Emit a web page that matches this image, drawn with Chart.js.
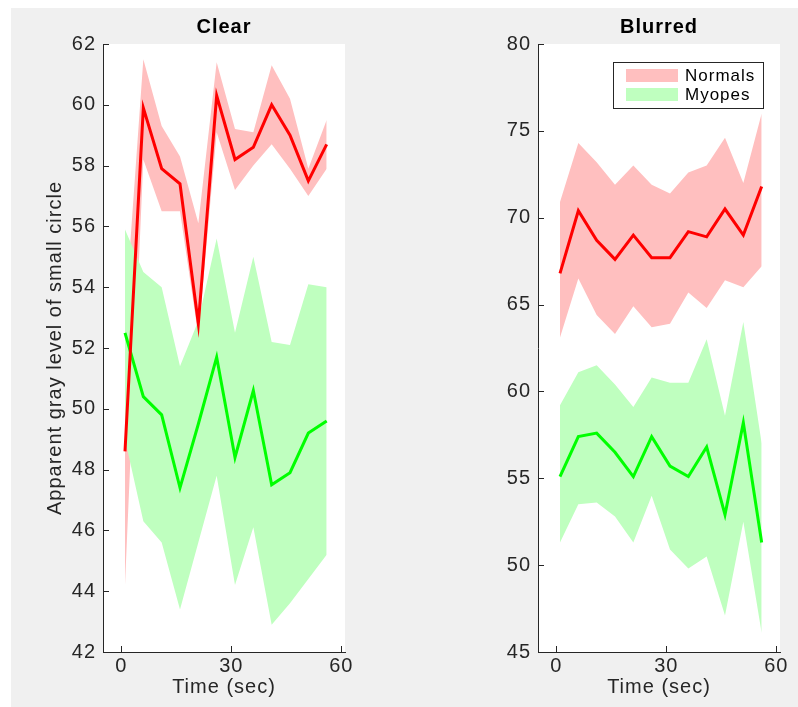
<!DOCTYPE html>
<html>
<head>
<meta charset="utf-8">
<script src="https://cdn.jsdelivr.net/npm/chart.js@4"></script>
<style>
  body { margin: 0; background: #fff; }
  #bg { position: absolute; left: 11px; top: 8px; width: 787px; height: 699px; background: #f0f0f0; }
  canvas { position: absolute; top: 0; }
  #clear { left: 0; }
  #blurred { left: 399px; }
</style>
</head>
<body>
<div id="bg"></div>
<canvas id="clear" width="399" height="707"></canvas>
<canvas id="blurred" width="399" height="707"></canvas>
<script>
// sample times (sec)
const times = [1, 6, 11, 16, 21, 26, 31, 36, 41, 46, 51, 56];

// Clear condition
const clearNormMean = [48.6, 59.9, 57.9, 57.4, 52.8, 60.3, 58.2, 58.6, 60.0, 59.0, 57.5, 58.7];
const clearNormHigh = [53.0, 61.5, 59.3, 58.3, 56.1, 61.4, 59.2, 59.1, 61.3, 60.2, 57.9, 59.5];
const clearNormLow  = [44.2, 58.2, 56.5, 56.5, 52.4, 59.1, 57.2, 58.0, 58.7, 57.9, 57.0, 57.9];
const clearMyoMean  = [52.5, 50.4, 49.8, 47.4, 49.5, 51.7, 48.4, 50.6, 47.5, 47.9, 49.2, 49.6];
const clearMyoHigh  = [55.9, 54.5, 54.0, 51.4, 52.9, 55.6, 52.5, 55.0, 52.2, 52.1, 54.1, 54.0];
const clearMyoLow   = [49.0, 46.3, 45.6, 43.4, 45.6, 47.8, 44.2, 46.1, 42.9, 43.6, 44.4, 45.2];

// Blurred condition
const blurNormMean = [66.8, 70.4, 68.7, 67.6, 69.0, 67.7, 67.7, 69.2, 68.9, 70.5, 69.0, 71.8];
const blurNormHigh = [70.9, 74.3, 73.2, 71.9, 73.0, 71.9, 71.4, 72.6, 73.0, 74.6, 72.0, 76.0];
const blurNormLow  = [63.1, 66.5, 64.4, 63.3, 64.9, 63.7, 63.9, 65.7, 64.8, 66.4, 66.0, 67.2];
const blurMyoMean  = [55.1, 57.4, 57.6, 56.5, 55.1, 57.4, 55.7, 55.1, 56.8, 52.9, 58.2, 51.3];
const blurMyoHigh  = [59.2, 61.1, 61.5, 60.4, 59.1, 60.8, 60.5, 60.5, 63.0, 58.6, 64.0, 57.0];
const blurMyoLow   = [51.3, 53.5, 53.6, 52.8, 51.3, 54.0, 50.9, 49.8, 50.5, 47.1, 52.5, 46.1];

// tick labels
const timeTicks = [0, 30, 60];
const clearTicks = [42, 44, 46, 48, 50, 52, 54, 56, 58, 60, 62];
const blurTicks = [45, 50, 55, 60, 65, 70, 75, 80];

const axisColor = "#262626";
const fontFamily = "'Liberation Sans', Arial, Helvetica, sans-serif";
const pink = "#ffbfbf";
const lightGreen = "#bfffbf";
const clearBorder = "rgba(0,0,0,0)";

// white plot box + inward ticks like the original
const panelLook = {
    id: "panelLook",
    beforeDraw(chart) {
        const { ctx, chartArea: a } = chart;
        ctx.letterSpacing = "1px";
        ctx.save();
        ctx.fillStyle = "#fff";
        ctx.fillRect(a.left, a.top, a.right - a.left, a.bottom - a.top);
        ctx.restore();
    },
    afterDatasetsDraw(chart) {
        const { ctx, chartArea: a, scales } = chart;
        ctx.save();
        ctx.strokeStyle = axisColor;
        ctx.lineWidth = 1;
        ctx.beginPath();
        scales.x.ticks.forEach(t => {
            const px = Math.round(scales.x.getPixelForValue(t.value)) + 0.5;
            ctx.moveTo(px, a.bottom);
            ctx.lineTo(px, a.bottom - 6);
        });
        scales.y.ticks.forEach(t => {
            const py = Math.round(scales.y.getPixelForValue(t.value)) + 0.5;
            ctx.moveTo(a.left, py);
            ctx.lineTo(a.left + 6, py);
        });
        ctx.stroke();
        ctx.restore();
    }
};

// boxed legend in the top right of the plot
const boxLegend = {
    id: "boxLegend",
    afterDraw(chart) {
        const { ctx, chartArea: a } = chart;
        const items = chart.data.datasets.filter(d => d.fill).reverse();
        const w = 150, h = 46;
        const x = a.right - 17 - w, y = a.top + 18;
        ctx.save();
        ctx.fillStyle = "#fff";
        ctx.fillRect(x, y, w, h);
        ctx.strokeStyle = axisColor;
        ctx.lineWidth = 1;
        ctx.strokeRect(x + 0.5, y + 0.5, w, h);
        ctx.font = "17px " + fontFamily;
        ctx.textBaseline = "middle";
        items.forEach((d, i) => {
            const rowY = y + 7 + i * 19;
            ctx.fillStyle = d.backgroundColor;
            ctx.fillRect(x + 13, rowY, 52, 13);
            ctx.fillStyle = "#000";
            ctx.fillText(d.label, x + 72, rowY + 7);
        });
        ctx.restore();
    }
};

function points(values) {
    return values.map((v, i) => ({ x: times[i], y: v }));
}

function meanLine(label, values, color) {
    return { label: label, data: points(values), borderColor: color, borderWidth: 3, pointRadius: 0, fill: false };
}

function bandEdge(label, values, fillColor) {
    const ds = { label: label, data: points(values), borderColor: clearBorder, borderWidth: 0, pointRadius: 0, fill: false };
    if (fillColor) {
        ds.fill = "-1";
        ds.backgroundColor = fillColor;
    }
    return ds;
}

function makePanel(id, title, yTicks, norm, myo, opts) {
    return new Chart(document.getElementById(id), {
        type: "line",
        data: {
            // fills are painted last-to-first, so the green band ends up over the pink one
            datasets: [
                meanLine("Normals mean", norm[0], "#ff0000"),
                meanLine("Myopes mean", myo[0], "#00ff00"),
                bandEdge("Myopes upper", myo[1]),
                bandEdge("Myopes", myo[2], lightGreen),
                bandEdge("Normals upper", norm[1]),
                bandEdge("Normals", norm[2], pink)
            ]
        },
        options: {
            responsive: false,
            animation: false,
            layout: { padding: { left: 0, right: opts.padRight, top: 0, bottom: 0 } },
            plugins: {
                legend: { display: false },
                tooltip: { enabled: false },
                filler: { drawTime: "beforeDatasetsDraw" },
                title: {
                    display: true,
                    text: title,
                    fullSize: false,
                    color: "#000",
                    font: { family: fontFamily, size: 20, weight: "bold" },
                    padding: { top: 15, bottom: 5 }
                }
            },
            scales: {
                x: {
                    type: "linear",
                    min: -5,
                    max: 61,
                    afterBuildTicks: s => { s.ticks = timeTicks.map(v => ({ value: v })); },
                    afterFit: s => { s.height = 55; },
                    grid: { display: false, drawTicks: false },
                    border: { color: axisColor, width: 1 },
                    ticks: { color: axisColor, font: { family: fontFamily, size: 20 }, padding: 2, maxRotation: 0 },
                    title: {
                        display: true,
                        text: "Time (sec)",
                        color: axisColor,
                        font: { family: fontFamily, size: 20 },
                        padding: { top: 0, bottom: 8 }
                    }
                },
                y: {
                    type: "linear",
                    min: yTicks[0],
                    max: yTicks[yTicks.length - 1],
                    afterBuildTicks: s => { s.ticks = yTicks.map(v => ({ value: v })); },
                    afterFit: s => { s.width = opts.yWidth; },
                    grid: { display: false, drawTicks: false },
                    border: { color: axisColor, width: 1 },
                    ticks: { color: axisColor, font: { family: fontFamily, size: 20 }, padding: 7 },
                    title: {
                        display: !!opts.yTitle,
                        text: opts.yTitle || "",
                        color: axisColor,
                        font: { family: fontFamily, size: 20 },
                        padding: { top: 43, bottom: 0 }
                    }
                }
            }
        },
        plugins: opts.legend ? [panelLook, boxLegend] : [panelLook]
    });
}

document.addEventListener("DOMContentLoaded", () => {

    makePanel("clear", "Clear", clearTicks,
        [clearNormMean, clearNormHigh, clearNormLow],
        [clearMyoMean, clearMyoHigh, clearMyoLow],
        { yWidth: 103, padRight: 54, yTitle: "Apparent gray level of small circle", legend: false });

    makePanel("blurred", "Blurred", blurTicks,
        [blurNormMean, blurNormHigh, blurNormLow],
        [blurMyoMean, blurMyoHigh, blurMyoLow],
        { yWidth: 139, padRight: 18, legend: true });

});
</script>
</body>
</html>
